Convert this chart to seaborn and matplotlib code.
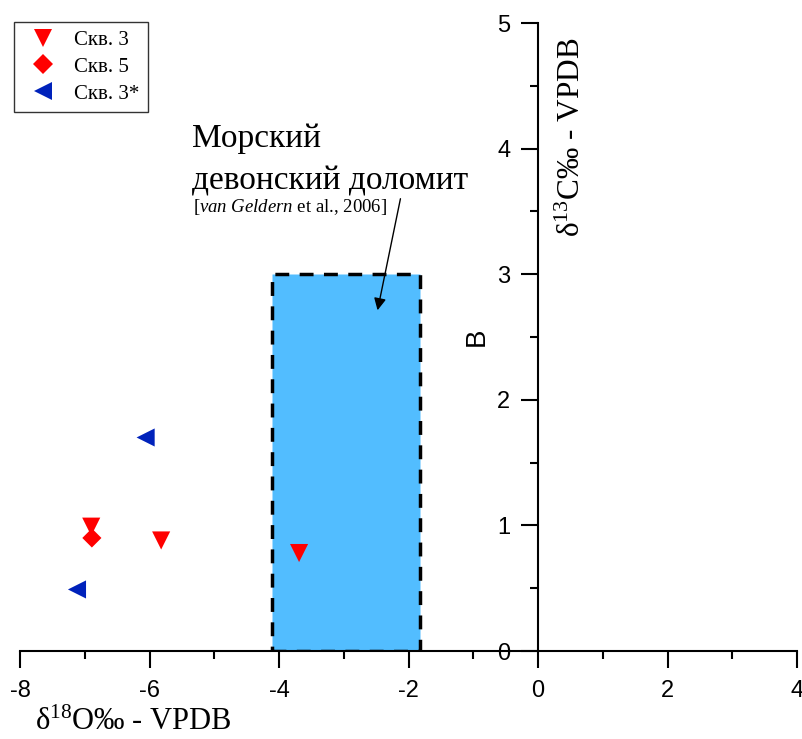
import numpy as np
import pandas as pd
import seaborn as sns
import matplotlib.pyplot as plt
from matplotlib.patches import Rectangle
from matplotlib.ticker import MultipleLocator

# data
wells = ['Скв. 3', 'Скв. 3', 'Скв. 3', 'Скв. 5', 'Скв. 3*', 'Скв. 3*']
d18o = [-6.90, -5.82, -3.69, -6.89, -6.06, -7.12]
d13c = [0.99, 0.88, 0.78, 0.90, 1.70, 0.49]

box_x = [-4.11, -1.82]
box_y = [0.0, 3.0]

df = pd.DataFrame({'well': wells, 'x': d18o, 'y': d13c})

sns.set_style('ticks')
plt.rcParams['font.family'] = ['Liberation Sans', 'DejaVu Sans']
plt.rcParams['mathtext.fontset'] = 'custom'
plt.rcParams['mathtext.rm'] = 'Liberation Serif'
plt.rcParams['mathtext.it'] = 'Liberation Serif:italic'
for k in ['text.color', 'axes.labelcolor', 'xtick.color', 'ytick.color', 'axes.edgecolor']:
    plt.rcParams[k] = 'black'

fig = plt.figure(figsize=(8.02, 7.39), dpi=100)
W, H = 802, 739
ax = fig.add_axes([20 / W, 1 - 651 / H, 777 / W, 628 / H])

ax.add_patch(Rectangle((box_x[0], box_y[0]), box_x[1] - box_x[0], box_y[1] - box_y[0],
                       facecolor='#52BDFF', edgecolor='black', linewidth=2.5,
                       linestyle=(0, (4, 3)), zorder=1))

sns.scatterplot(data=df, x='x', y='y', hue='well', style='well', size='well',
                palette={'Скв. 3': '#FF0000', 'Скв. 5': '#FF0000', 'Скв. 3*': '#0022BB'},
                markers={'Скв. 3': 'v', 'Скв. 5': 'D', 'Скв. 3*': '<'},
                sizes={'Скв. 3': 170, 'Скв. 5': 95, 'Скв. 3*': 170},
                linewidth=0, ax=ax, zorder=3)

ax.set_xlim(-8, 4)
ax.set_ylim(0, 5)
ax.set_xticks([-8, -6, -4, -2, 0, 2, 4])
ax.set_xticklabels(['-8', '-6', '-4', '-2', '0', '2', '4'])
ax.xaxis.set_minor_locator(MultipleLocator(1))
ax.yaxis.set_major_locator(MultipleLocator(1))
ax.yaxis.set_minor_locator(MultipleLocator(0.5))
ax.spines['left'].set_position(('data', 0))
ax.spines['top'].set_visible(False)
ax.spines['right'].set_visible(False)
for sp in ['left', 'bottom']:
    ax.spines[sp].set_linewidth(1.5)
ax.tick_params(which='major', length=12, width=1.5, direction='out')
ax.tick_params(which='minor', length=6, width=1.5, direction='out')
ax.tick_params(axis='x', which='major', labelsize=17, pad=9)
ax.tick_params(axis='y', which='major', labelsize=17, pad=8)
ax.set_xlabel('')
ax.set_ylabel('')

serif = ['Liberation Serif', 'DejaVu Serif']
fig.text(35 / W, 1 - 730 / H, r'δ$^{18}$O‰ - VPDB', family=serif,
         fontsize=22, ha='left', va='baseline')
fig.text(572 / W, 1 - 137 / H, r'δ$^{13}$C‰ - VPDB', family=serif,
         fontsize=22.5, rotation=90, ha='center', va='center')
fig.text(477 / W, 1 - 337 / H, 'B', fontsize=20, rotation=90, ha='center', va='center')

fig.text(192 / W, 1 - 147 / H, 'Морский', family=serif,
         fontsize=24, ha='left', va='baseline')
fig.text(192 / W, 1 - 190 / H, 'девонский доломит', family=serif,
         fontsize=24, ha='left', va='baseline')
fig.text(193 / W, 1 - 212 / H,
         r'$\it{[van\ Geldern}$ et al., $\it{2006]}$',
         family=serif, fontsize=13.5, ha='left', va='baseline')
ax.annotate('', xy=(377, H - 313), xycoords='figure pixels',
            xytext=(401, H - 196), textcoords='figure pixels',
            arrowprops=dict(arrowstyle='-|>', color='black', lw=1, mutation_scale=18))

leg = ax.legend(loc='upper left', bbox_to_anchor=(14 / W, 1 - 22 / H),
                bbox_transform=fig.transFigure, borderaxespad=0, frameon=True,
                fancybox=False, edgecolor='black', prop={'family': serif, 'size': 15},
                handletextpad=0.5, borderpad=0.4, labelspacing=0.35, handlelength=2.0)
leg.get_frame().set_linewidth(1)

fig.savefig('out.png', dpi=100)
